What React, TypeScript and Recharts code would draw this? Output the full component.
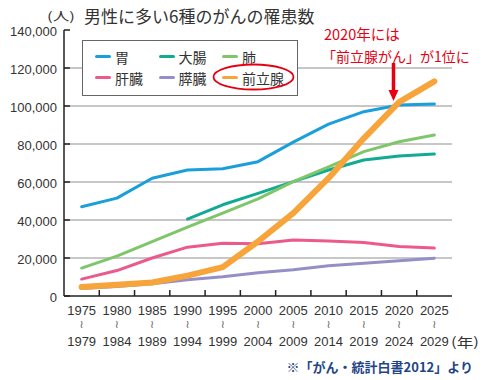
import { CartesianGrid, Line, LineChart, XAxis, YAxis } from "recharts";

const periods = ["1975", "1980", "1985", "1990", "1995", "2000", "2005", "2010", "2015", "2020", "2025"];
const periodEnds = ["1979", "1984", "1989", "1994", "1999", "2004", "2009", "2014", "2019", "2024", "2029"];

const stomach = [47000, 51500, 62000, 66300, 67000, 70700, 81000, 90500, 97000, 100500, 101000];
const colon = [null, null, null, 40500, 48000, 54000, 60200, 66300, 71600, 73700, 74700];
const lung = [14700, 21000, 28600, 36200, 43600, 51100, 60200, 68000, 76000, 81200, 84700];
const liver = [8900, 13400, 20000, 25700, 27800, 27500, 29500, 29000, 28200, 26100, 25200];
const pancreas = [4000, 5000, 6500, 8600, 10100, 12200, 13800, 15900, 17300, 18500, 19900];
const prostate = [4700, 5900, 7100, 10700, 15200, 28700, 43600, 62000, 83000, 102000, 113000];

const yTicks = [0, 20000, 40000, 60000, 80000, 100000, 120000, 140000];
const gridValues = [20000, 40000, 60000, 80000, 100000, 120000];

const series = [
    { key: "stomach", name: "胃", color: "#1a9fdb", width: 3 },
    { key: "colon", name: "大腸", color: "#12aa92", width: 3 },
    { key: "lung", name: "肺", color: "#7fc66a", width: 3 },
    { key: "liver", name: "肝臓", color: "#ec5a8b", width: 3 },
    { key: "pancreas", name: "膵臓", color: "#958fc8", width: 3 },
    { key: "prostate", name: "前立腺", color: "#f7a43a", width: 6 }
];

const data = periods.map((period, i) => ({
    period,
    stomach: stomach[i],
    colon: colon[i],
    lung: lung[i],
    liver: liver[i],
    pancreas: pancreas[i],
    prostate: prostate[i]
}));

const jpFont = "'Noto Sans CJK JP', 'Noto Sans', sans-serif";
const numFont = "'Liberation Sans', Arial, sans-serif";

function PeriodTick(props: any) {
    const { x, y, payload, index } = props;
    const half = payload?.offset ?? 17.6;
    return (
        <g>
            {index > 0 && (
                <line x1={x - half} x2={x - half} y1={y} y2={y - 6} stroke="#222" strokeWidth={1.5} />
            )}
            <text x={x} y={y + 14.5} textAnchor="middle" dominantBaseline="central" fontSize={13} fontFamily={numFont} fill="#333">
                {payload.value}
            </text>
            <text x={x} y={y + 28} textAnchor="middle" dominantBaseline="central" fontSize={11} fontFamily="'DejaVu Sans', sans-serif" fill="#666">
                ≀
            </text>
            <text x={x} y={y + 45} textAnchor="middle" dominantBaseline="central" fontSize={13} fontFamily={numFont} fill="#333">
                {periodEnds[index]}
            </text>
        </g>
    );
}

function CountTick(props: any) {
    const { x, y, payload } = props;
    return (
        <g>
            <line x1={x + 7} x2={x + 13} y1={y} y2={y} stroke="#222" strokeWidth={1.5} />
            <text x={x} y={y + 1} textAnchor="end" dominantBaseline="central" fontSize={13} fontFamily={numFont} fill="#333">
                {Number(payload.value).toLocaleString("en-US")}
            </text>
        </g>
    );
}

// legend is drawn by hand so it doesn't eat into the plot area
function LegendBox() {
    return (
        <div
            style={{
                position: "absolute",
                left: 82,
                top: 40,
                width: 216,
                height: 56,
                boxSizing: "border-box",
                border: "1.5px solid #666",
                background: "#fff"
            }}
        >
            {series.map((s, i) => (
                <div
                    key={s.key}
                    style={{
                        position: "absolute",
                        left: 12 + (i % 3) * 63.5,
                        top: 5 + Math.floor(i / 3) * 21,
                        height: 21,
                        display: "flex",
                        alignItems: "center",
                        fontFamily: jpFont,
                        fontSize: 14,
                        color: "#333",
                        whiteSpace: "nowrap"
                    }}
                >
                    <span style={{ width: 16, height: 3, borderRadius: 2, background: s.color, marginRight: 4 }} />
                    <span>{s.name}</span>
                </div>
            ))}
        </div>
    );
}

export default function App() {
    return (
        <div style={{ position: "absolute", left: 0, top: 0, width: 500, height: 380, background: "#fff" }}>
            <LineChart width={500} height={380} data={data} margin={{ top: 30, right: 48, bottom: 24, left: 4 }}>
                <CartesianGrid vertical={false} horizontalValues={gridValues} stroke="#b4b4b4" strokeWidth={1.5} />
                <XAxis
                    dataKey="period"
                    scale="band"
                    height={60}
                    axisLine={{ stroke: "#222", strokeWidth: 1.5 }}
                    tickLine={false}
                    tickSize={0}
                    tickMargin={0}
                    interval={0}
                    tick={<PeriodTick />}
                />
                <YAxis
                    width={60}
                    domain={[0, 140000]}
                    ticks={yTicks}
                    axisLine={{ stroke: "#222", strokeWidth: 1.5 }}
                    tickLine={false}
                    tickSize={0}
                    tickMargin={7}
                    interval={0}
                    tick={<CountTick />}
                />
                {series.map((s) => (
                    <Line
                        key={s.key}
                        type="linear"
                        dataKey={s.key}
                        name={s.name}
                        stroke={s.color}
                        strokeWidth={s.width}
                        strokeLinecap="round"
                        strokeLinejoin="round"
                        dot={false}
                        activeDot={false}
                        connectNulls={false}
                        isAnimationActive={false}
                    />
                ))}
            </LineChart>
            <LegendBox />
            <svg width={500} height={380} style={{ position: "absolute", left: 0, top: 0, pointerEvents: "none" }}>
                <text x={47} y={15} dominantBaseline="central" fontSize={12} fontFamily={jpFont} fill="#333" textLength={28} lengthAdjust="spacingAndGlyphs">
                    (人)
                </text>
                <text x={84} y={15} dominantBaseline="central" fontSize={17} fontFamily={jpFont} fill="#333">
                    男性に多い6種のがんの罹患数
                </text>
                <ellipse cx={253.5} cy={77} rx={40} ry={12.5} fill="none" stroke="#e60012" strokeWidth={1.8} />
                <text x={324} y={33} dominantBaseline="central" fontSize={14.5} fontFamily={jpFont} fill="#e60012">
                    2020年には
                </text>
                <text x={322} y={56} dominantBaseline="central" fontSize={14} fontFamily={jpFont} fill="#e60012">
                    「前立腺がん」が1位に
                </text>
                <line x1={393.5} x2={393.5} y1={63} y2={91} stroke="#e60012" strokeWidth={3.5} />
                <polygon points="388.5,90 398.5,90 393.5,101" fill="#e60012" />
                <text x={451} y={341} dominantBaseline="central" fontSize={13} fontFamily={jpFont} fill="#333" textLength={28} lengthAdjust="spacingAndGlyphs">
                    (年)
                </text>
                <text x={473} y={366} textAnchor="end" dominantBaseline="central" fontSize={13} fontWeight="bold" fontFamily={jpFont} fill="#1f4585">
                    ※「がん・統計白書2012」より
                </text>
            </svg>
        </div>
    );
}
